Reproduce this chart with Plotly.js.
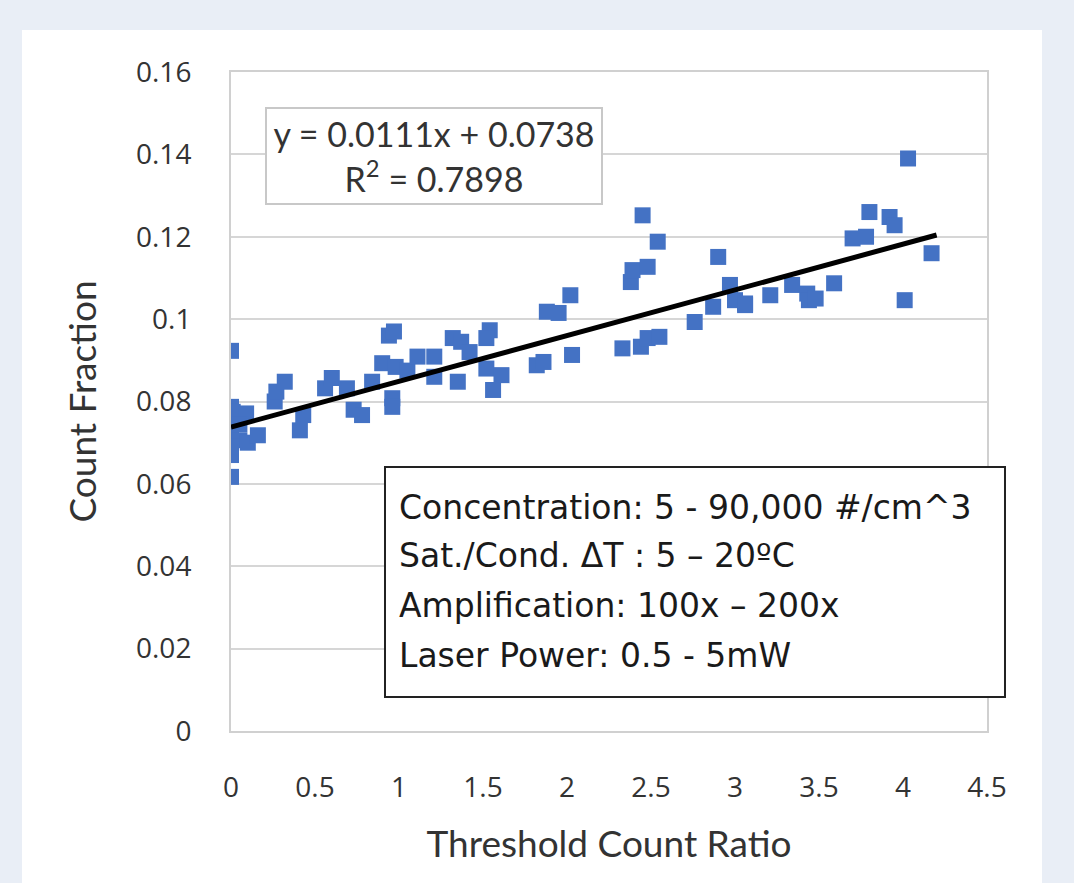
<!DOCTYPE html>
<html>
<head>
<meta charset="utf-8">
<script src="https://cdn.plot.ly/plotly-3.0.1.min.js"></script>
<style>
  html, body { margin: 0; padding: 0; background: #e9eef6; width: 1074px; height: 883px; overflow: hidden; }
  #chart { position: absolute; left: 22px; top: 30px; width: 1020px; height: 853px; background: #ffffff; }
</style>
</head>
<body>
<div id="chart"></div>
<script>
// Measured points: Threshold Count Ratio vs Count Fraction
const ratio = [
  0.00, 0.00, 0.01, 0.03, 0.09, 0.05, 0.00, 0.05, 0.00, 0.00, 0.00, 0.10, 0.16,
  0.26, 0.27, 0.32, 0.41, 0.43,
  0.56, 0.60, 0.69, 0.73, 0.78,
  0.84, 0.90, 0.94, 0.97, 0.98, 0.96, 0.96, 1.05,
  1.11, 1.21, 1.21, 1.32, 1.37, 1.35, 1.42, 1.54, 1.52, 1.52, 1.61, 1.56,
  1.82, 1.86, 1.88, 1.95, 2.02, 2.03,
  2.33, 2.44, 2.48, 2.55, 2.38, 2.39, 2.48, 2.45, 2.54,
  2.76, 2.87, 2.90, 2.97, 3.00, 3.06, 3.06,
  3.21, 3.34, 3.43, 3.44, 3.48, 3.59,
  3.70, 3.78, 3.80, 3.92, 3.95, 4.03, 4.01, 4.17
];
const countFraction = [
  0.0923, 0.0787, 0.0775, 0.0760, 0.0771, 0.0745, 0.0723, 0.0706, 0.0690, 0.0670, 0.0617, 0.0700, 0.0718,
  0.0800, 0.0824, 0.0848, 0.0730, 0.0767,
  0.0832, 0.0857, 0.0832, 0.0780, 0.0767,
  0.0848, 0.0893, 0.0960, 0.0970, 0.0884, 0.0808, 0.0787, 0.0875,
  0.0909, 0.0909, 0.0860, 0.0954, 0.0945, 0.0848, 0.0920, 0.0973, 0.0954, 0.0880, 0.0864, 0.0828,
  0.0888, 0.0896, 0.1018, 0.1015, 0.1058, 0.0913,
  0.0929, 0.0933, 0.0954, 0.0957, 0.1090, 0.1119, 0.1127, 0.1252, 0.1188,
  0.0993, 0.1030, 0.1151, 0.1083, 0.1046, 0.1038, 0.1034,
  0.1058, 0.1083, 0.1062, 0.1046, 0.1050, 0.1087,
  0.1196, 0.1200, 0.1260, 0.1248, 0.1228, 0.1390, 0.1046, 0.1160
];
// Linear trend line (from chart equation)
const trendSlope = 0.0111;
const trendIntercept = 0.0738;
const trendX = [0, 4.2];
const trendY = trendX.map(v => trendSlope * v + trendIntercept);

const yTickVals = [0, 0.02, 0.04, 0.06, 0.08, 0.1, 0.12, 0.14, 0.16];
const yTickText = ['0', '0.02', '0.04', '0.06', '0.08', '0.1', '0.12', '0.14', '0.16'];
const xTickVals = [0, 0.5, 1, 1.5, 2, 2.5, 3, 3.5, 4, 4.5];
const xTickText = ['0', '0.5', '1', '1.5', '2', '2.5', '3', '3.5', '4', '4.5'];

const equationText = 'y = 0.0111x + 0.0738<br>R<sup>2</sup> = 0.7898';
const infoLines = [
  'Concentration: 5 - 90,000 #/cm^3',
  'Sat./Cond. ΔT : 5 – 20ºC',
  'Amplification: 100x – 200x',
  'Laser Power: 0.5 - 5mW'
];
const infoLineY = [0.3399, 0.2656, 0.1897, 0.1153];

const tickFont = { family: 'Open Sans, Noto Sans, sans-serif', size: 28, color: '#333333' };
const titleFont = { family: 'Lato, Carlito, sans-serif', size: 37, color: '#333333' };

const traces = [
  {
    type: 'scatter', mode: 'markers', x: ratio, y: countFraction,
    marker: { symbol: 'square', size: 16, color: '#4472c4' },
    hoverinfo: 'x+y', showlegend: false
  },
  {
    type: 'scatter', mode: 'lines', x: trendX, y: trendY,
    line: { color: '#000000', width: 5 },
    hoverinfo: 'skip', showlegend: false
  }
];

const annotations = [
  {
    xref: 'x', yref: 'y', x: 0.2, y: 0.1515, xanchor: 'left', yanchor: 'top',
    text: equationText, showarrow: false, align: 'center',
    font: { family: 'Lato, Carlito, sans-serif', size: 34, color: '#333333' },
    bgcolor: '#ffffff', bordercolor: '#c8c8c8', borderwidth: 2,
    width: 334, height: 94, borderpad: 0
  }
];
infoLines.forEach((t, i) => {
  annotations.push({
    xref: 'paper', yref: 'paper', x: 0.2196, y: infoLineY[i],
    xanchor: 'left', yanchor: 'middle', text: t, showarrow: false, align: 'left',
    font: { family: 'DejaVu Sans, Noto Sans, sans-serif', size: 33, color: '#1a1a1a' }
  });
});

const layout = {
  width: 1020, height: 853,
  paper_bgcolor: '#ffffff', plot_bgcolor: '#ffffff',
  margin: { l: 209, r: 55, t: 42, b: 152 },
  showlegend: false,
  xaxis: {
    range: [0, 4.5], tickvals: xTickVals, ticktext: xTickText,
    showgrid: false, zeroline: false,
    showline: true, linecolor: '#d0d0d0', linewidth: 2, mirror: true,
    ticks: '', ticklabelstandoff: 30, tickfont: tickFont,
    title: { text: 'Threshold Count Ratio', font: titleFont, standoff: 28 }
  },
  yaxis: {
    range: [0, 0.16], tickvals: yTickVals, ticktext: yTickText,
    showgrid: true, gridcolor: '#d6d6d6', gridwidth: 2, zeroline: false,
    showline: true, linecolor: '#d0d0d0', linewidth: 2, mirror: true,
    ticks: '', ticklabelstandoff: 32, tickfont: tickFont,
    title: { text: 'Count Fraction', font: titleFont, standoff: 28 }
  },
  shapes: [
    {
      type: 'rect', xref: 'paper', yref: 'paper',
      x0: 0.2037, x1: 1.0238, y0: 0.0516, y1: 0.4006,
      line: { color: '#222222', width: 2 }, fillcolor: '#ffffff', layer: 'above'
    }
  ],
  annotations: annotations
};

Plotly.newPlot('chart', traces, layout, { displayModeBar: false, responsive: false });
</script>
</body>
</html>
